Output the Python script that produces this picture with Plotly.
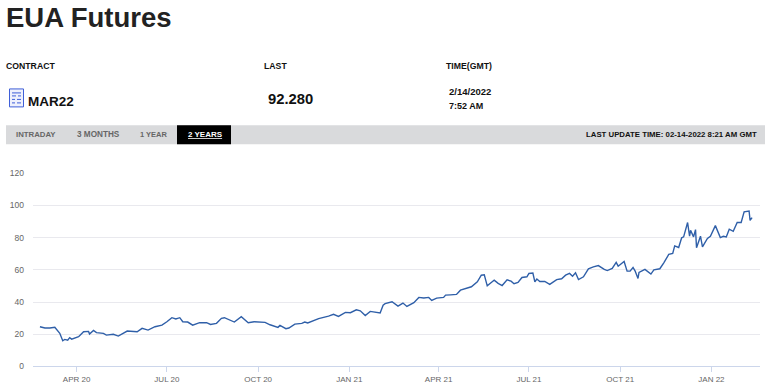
import plotly.graph_objects as go

W, H = 768, 386
dates = """2020-02-24 2020-02-29 2020-03-05 2020-03-10 2020-03-15 2020-03-18 2020-03-20 2020-03-23 2020-03-25 2020-03-27
2020-04-03 2020-04-08 2020-04-13 2020-04-14 2020-04-18 2020-04-21 2020-04-28 2020-05-01 2020-05-08 2020-05-13
2020-05-22 2020-06-01 2020-06-06 2020-06-12 2020-06-19 2020-06-26 2020-07-01 2020-07-06 2020-07-10 2020-07-14
2020-07-17 2020-07-22 2020-07-27 2020-08-03 2020-08-10 2020-08-14 2020-08-20 2020-08-25 2020-08-28 2020-09-02
2020-09-07 2020-09-14 2020-09-17 2020-09-21 2020-09-27 2020-10-01 2020-10-08 2020-10-13 2020-10-21 2020-10-23
2020-10-29 2020-11-01 2020-11-07 2020-11-14 2020-11-17 2020-11-20 2020-12-01 2020-12-11 2020-12-16 2020-12-21
2020-12-28 2021-01-02 2021-01-08 2021-01-12 2021-01-17 2021-01-22 2021-01-27 2021-02-01 2021-02-04 2021-02-06
2021-02-13 2021-02-19 2021-02-24 2021-02-28 2021-03-07 2021-03-12 2021-03-17 2021-03-22 2021-03-25 2021-03-30
2021-04-06 2021-04-08 2021-04-13 2021-04-19 2021-04-23 2021-04-29 2021-05-04 2021-05-10 2021-05-14 2021-05-17
2021-05-20 2021-05-25 2021-05-27 2021-05-31 2021-06-04 2021-06-09 2021-06-13 2021-06-16 2021-06-20 2021-06-24
2021-06-29 2021-07-01 2021-07-05 2021-07-07 2021-07-09 2021-07-12 2021-07-17 2021-07-22 2021-07-29 2021-08-03
2021-08-07 2021-08-11 2021-08-14 2021-08-17 2021-08-20 2021-08-25 2021-08-30 2021-09-04 2021-09-09 2021-09-15
2021-09-18 2021-09-23 2021-09-27 2021-09-29 2021-10-05 2021-10-08 2021-10-11 2021-10-14 2021-10-16 2021-10-19
2021-10-20 2021-10-26 2021-11-01 2021-11-04 2021-11-10 2021-11-14 2021-11-19 2021-11-23 2021-11-25 2021-11-29
2021-12-02 2021-12-04 2021-12-08 2021-12-10 2021-12-11 2021-12-14 2021-12-16 2021-12-17 2021-12-21 2021-12-23
2021-12-28 2021-12-31 2022-01-05 2022-01-10 2022-01-13 2022-01-16 2022-01-19 2022-01-23 2022-01-27 2022-01-31
2022-02-03 2022-02-08 2022-02-09 2022-02-11""".split()
prices = [24.7, 23.9, 23.9, 24.3, 20.6, 16.0, 16.8, 16.3, 17.9, 17.0,
          18.5, 21.6, 21.8, 20.2, 22.4, 21.0, 20.6, 19.5, 20.0, 18.9,
          22.0, 21.6, 23.7, 22.6, 24.7, 25.7, 27.8, 30.3, 29.5, 30.3,
          27.8, 27.6, 25.7, 27.2, 27.2, 26.1, 26.8, 29.9, 30.3, 28.8,
          27.6, 30.9, 29.5, 27.2, 27.8, 27.6, 27.4, 25.9, 24.3, 25.5,
          23.5, 23.9, 26.3, 26.8, 27.6, 27.0, 29.7, 31.3, 32.4, 31.1,
          33.6, 33.4, 35.2, 34.6, 31.7, 34.2, 33.6, 33.2, 38.1, 39.0,
          40.2, 37.5, 39.4, 37.3, 39.6, 42.9, 42.5, 42.9, 41.0, 42.5,
          42.9, 44.3, 44.5, 44.8, 47.4, 48.5, 49.5, 52.6, 56.7, 57.0,
          50.1, 52.6, 53.6, 51.6, 50.3, 53.8, 53.0, 51.4, 52.2, 55.3,
          55.7, 57.8, 58.0, 52.6, 54.3, 52.8, 52.8, 51.0, 54.0, 54.5,
          56.7, 57.8, 56.1, 58.2, 54.0, 55.7, 60.7, 61.9, 62.7, 60.3,
          59.6, 60.9, 64.6, 62.3, 65.2, 59.2, 59.2, 61.5, 59.4, 54.7,
          58.4, 60.3, 57.4, 60.0, 60.7, 64.4, 69.6, 70.2, 74.9, 73.9,
          79.9, 80.5, 89.4, 80.9, 84.6, 80.5, 85.0, 73.7, 80.9, 74.3,
          79.5, 80.9, 87.5, 80.1, 80.9, 80.5, 85.3, 84.0, 89.4, 89.4,
          96.0, 96.6, 90.8, 92.5]
tick_dates = ["2020-04-01", "2020-07-01", "2020-10-01", "2021-01-01",
              "2021-04-01", "2021-07-01", "2021-10-01", "2022-01-01"]
tick_labels = ["APR 20", "JUL 20", "OCT 20", "JAN 21", "APR 21", "JUL 21", "OCT 21", "JAN 22"]
y_ticks = [0, 20, 40, 60, 80, 100, 120]

FONT = "Liberation Sans"
# Measured offset of the rendered paper area relative to the page
TOP, PAPER_H = 4.44, 376.6
px = lambda v: v / W
py = lambda v: 1 - (v - TOP) / PAPER_H

fig = go.Figure(go.Scatter(x=dates, y=prices, mode="lines",
                           line=dict(color="#2f5fa8", width=1.4), hoverinfo="skip"))

def rect(x0, y0, x1, y1, fill, line=None, lw=0):
    return dict(type="rect", xref="paper", yref="paper", x0=px(x0), x1=px(x1), y0=py(y0), y1=py(y1),
                fillcolor=fill, line=dict(color=line or fill, width=lw), layer="below")

def seg(x0, y0, x1, y1, color="#3f5fd8", lw=1):
    return dict(type="line", xref="paper", yref="paper", x0=px(x0), x1=px(x1), y0=py(y0), y1=py(y1),
                line=dict(color=color, width=lw), layer="below")

shapes = [rect(6, 125, 765, 144, "#d9dadc"), rect(177, 125, 231, 144, "#000000"),
          rect(9.5, 88.5, 23.5, 106.5, "#eef0fc", "#3f5fd8", 1),
          seg(12, 92.5, 21, 92.5), seg(12, 95.5, 16, 95.5), seg(18, 95.5, 21, 95.5),
          seg(12, 99, 15, 99), seg(17, 99, 21, 99), seg(12, 102.5, 15, 102.5), seg(17, 102.5, 21, 102.5)]

def text(x, y, s, size, color="#111111", bold=True, anchor="left"):
    return dict(xref="paper", yref="paper", x=px(x), y=py(y), text=f"<b>{s}</b>" if bold else s,
                showarrow=False, xanchor=anchor, yanchor="middle",
                font=dict(family=FONT, size=size, color=color), borderpad=0, borderwidth=0)

annotations = [
    text(6, 17, "EUA Futures", 27.5, "#222222"),
    text(6, 66, "CONTRACT", 8.7),
    text(264, 66, "LAST", 8.7),
    text(446, 66, "TIME(GMT)", 8.7),
    text(27.5, 101.5, "MAR22", 13.5),
    text(268, 98.5, "92.280", 14.8),
    text(449, 91, "2/14/2022", 9.5),
    text(449, 105.5, "7:52 AM", 9),
    text(16, 134.5, "INTRADAY", 7.8, "#666666"),
    text(77, 134.5, "3 MONTHS", 8.2, "#666666"),
    text(140, 134.5, "1 YEAR", 7.5, "#666666"),
    text(187.5, 134.5, "<u>2 YEARS</u>", 8, "#ffffff"),
    text(757, 134.5, "LAST UPDATE TIME: 02-14-2022 8:21 AM GMT", 7.8, "#111111", anchor="right"),
]

fig.update_layout(
    width=W, height=H, autosize=False, margin=dict(l=0, r=0, t=0, b=0),
    paper_bgcolor="white", plot_bgcolor="white", showlegend=False,
    shapes=shapes, annotations=annotations,
    xaxis=dict(domain=[px(33), px(760)], range=["2020-02-17", "2022-02-19"], type="date",
               tickmode="array", tickvals=tick_dates, ticktext=tick_labels,
               showgrid=False, zeroline=False, showline=True, linecolor="#ccd6eb", linewidth=1,
               ticks="outside", ticklen=5, tickcolor="#ccd6eb", tickwidth=1,
               tickfont=dict(family=FONT, size=8, color="#666666")),
    yaxis=dict(domain=[py(366.5), py(173)], range=[0, 120],
               tickmode="array", tickvals=y_ticks, ticktext=[str(v) for v in y_ticks],
               showgrid=True, gridcolor="#e9e9ee", gridwidth=1, zeroline=False, showline=False,
               ticks="", ticklabelstandoff=8,
               tickfont=dict(family=FONT, size=8.5, color="#666666")),
)
fig.write_html("out.html", config={"displayModeBar": False},
               post_script="document.body.style.margin='0';document.body.style.overflow='hidden';")
